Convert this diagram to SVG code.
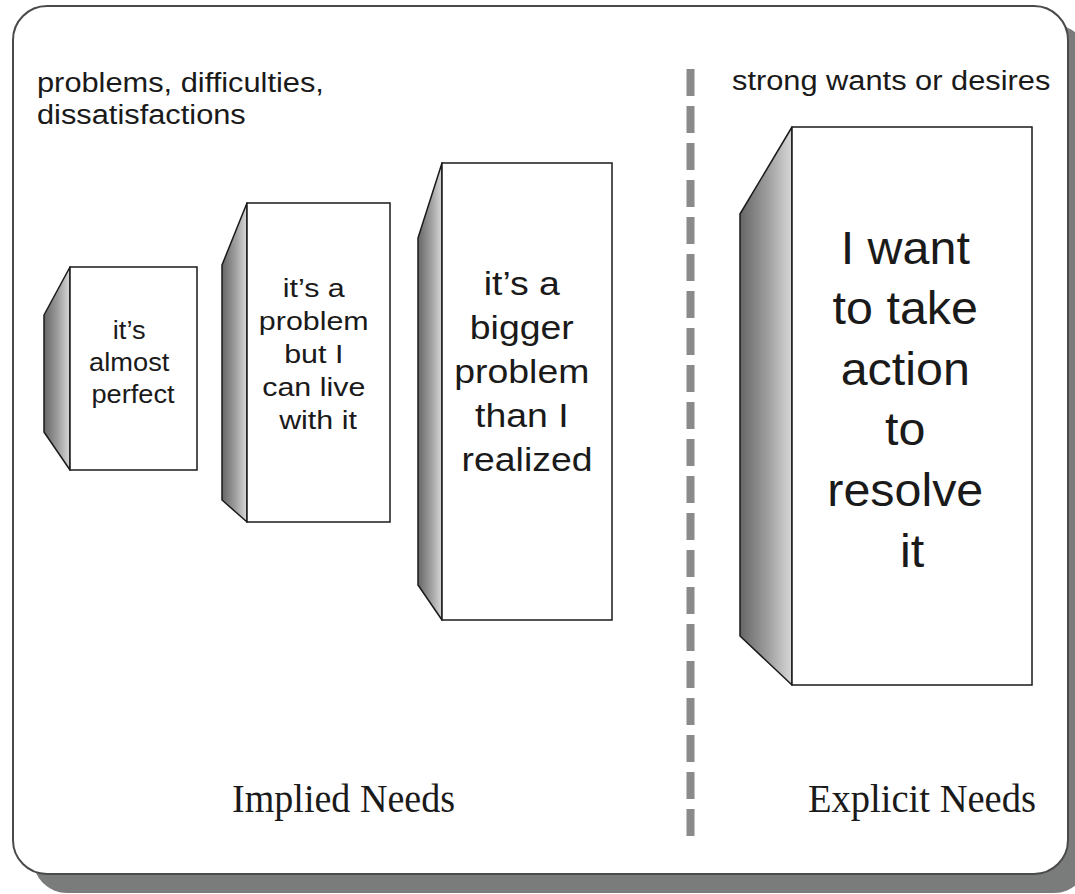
<svg xmlns="http://www.w3.org/2000/svg" width="1075" height="894" viewBox="0 0 1075 894">
  <defs>
    <linearGradient id="sideShade" x1="0" y1="0" x2="1" y2="0">
      <stop offset="0" stop-color="#666666"/>
      <stop offset="0.55" stop-color="#a0a0a0"/>
      <stop offset="1" stop-color="#d8d8d8"/>
    </linearGradient>
    <style>
      .frame { fill: #ffffff; stroke: #4a4a4a; stroke-width: 2; }
      .frame-shadow { fill: #7a7c7c; }
      .divider { stroke: #8a8a8a; stroke-width: 8; stroke-dasharray: 27 10; fill: none; }
      .side { fill: url(#sideShade); stroke: #1a1a1a; stroke-width: 1.5; stroke-linejoin: round; }
      .front { fill: #ffffff; stroke: #1a1a1a; stroke-width: 1.5; }
      .sans { font-family: "Liberation Sans", Arial, Helvetica, sans-serif; fill: #1a1a1a; }
      .serif { font-family: "Liberation Serif", "Times New Roman", serif; fill: #1a1a1a; }
      .mid { text-anchor: middle; }
    </style>
  </defs>

  <!-- outer panel with drop shadow -->
  <g id="panel">
    <rect class="frame-shadow" x="33" y="25" width="1055" height="868" rx="34"/>
    <rect class="frame" x="13" y="6" width="1055" height="868" rx="34"/>
  </g>

  <!-- headings -->
  <g id="heading-left">
    <g transform="translate(37,0) scale(1.1,1)">
      <text class="sans" x="0" y="92" font-size="28">problems, difficulties,</text>
      <text class="sans" x="0" y="124" font-size="28">dissatisfactions</text>
    </g>
  </g>
  <g id="heading-right">
    <g transform="translate(732,0) scale(1.1,1)">
      <text class="sans" x="0" y="90" font-size="28">strong wants or desires</text>
    </g>
  </g>

  <!-- dashed divider -->
  <g id="connectors">
    <line class="divider" x1="690.5" y1="69" x2="690.5" y2="836"/>
  </g>

  <!-- block 1 -->
  <g id="block-almost-perfect">
    <polygon class="side" points="70,267 44,315 44,432 70,470"/>
    <rect class="front" x="70" y="267" width="127" height="203"/>
    <g transform="translate(133,0) scale(1.09,1)">
      <text class="sans mid" font-size="25">
        <tspan x="0" y="339">it’s</tspan>
        <tspan x="0" y="371">almost</tspan>
        <tspan x="0" y="403">perfect</tspan>
      </text>
    </g>
  </g>

  <!-- block 2 -->
  <g id="block-can-live-with-it">
    <polygon class="side" points="247,203 222,265 222,500 247,522"/>
    <rect class="front" x="247" y="203" width="143" height="319"/>
    <g transform="translate(318,0) scale(1.17,1)">
      <text class="sans mid" font-size="26">
        <tspan x="0" y="297">it’s a</tspan>
        <tspan x="0" y="330">problem</tspan>
        <tspan x="0" y="363">but I</tspan>
        <tspan x="0" y="396">can live</tspan>
        <tspan x="0" y="429">with it</tspan>
      </text>
    </g>
  </g>

  <!-- block 3 -->
  <g id="block-bigger-problem">
    <polygon class="side" points="442,163 418,238 418,585 442,620"/>
    <rect class="front" x="442" y="163" width="170" height="457"/>
    <g transform="translate(527,0) scale(1.1,1)">
      <text class="sans mid" font-size="34">
        <tspan x="0" y="295">it’s a</tspan>
        <tspan x="0" y="339">bigger</tspan>
        <tspan x="0" y="383">problem</tspan>
        <tspan x="0" y="427">than I</tspan>
        <tspan x="0" y="471">realized</tspan>
      </text>
    </g>
  </g>

  <!-- block 4 -->
  <g id="block-take-action">
    <polygon class="side" points="792,127 740,214 740,636 792,685"/>
    <rect class="front" x="792" y="127" width="240" height="558"/>
    <g transform="translate(912,0) scale(1.03,1)">
      <text class="sans mid" font-size="47">
        <tspan x="0" y="264">I want</tspan>
        <tspan x="0" y="324">to take</tspan>
        <tspan x="0" y="385">action</tspan>
        <tspan x="0" y="445">to</tspan>
        <tspan x="0" y="506">resolve</tspan>
        <tspan x="0" y="567">it</tspan>
      </text>
    </g>
  </g>

  <!-- section labels -->
  <g id="label-implied">
    <text class="serif" x="232" y="812" font-size="40" textLength="223" lengthAdjust="spacingAndGlyphs">Implied Needs</text>
  </g>
  <g id="label-explicit">
    <text class="serif" x="808" y="812" font-size="40" textLength="228" lengthAdjust="spacingAndGlyphs">Explicit Needs</text>
  </g>
</svg>
